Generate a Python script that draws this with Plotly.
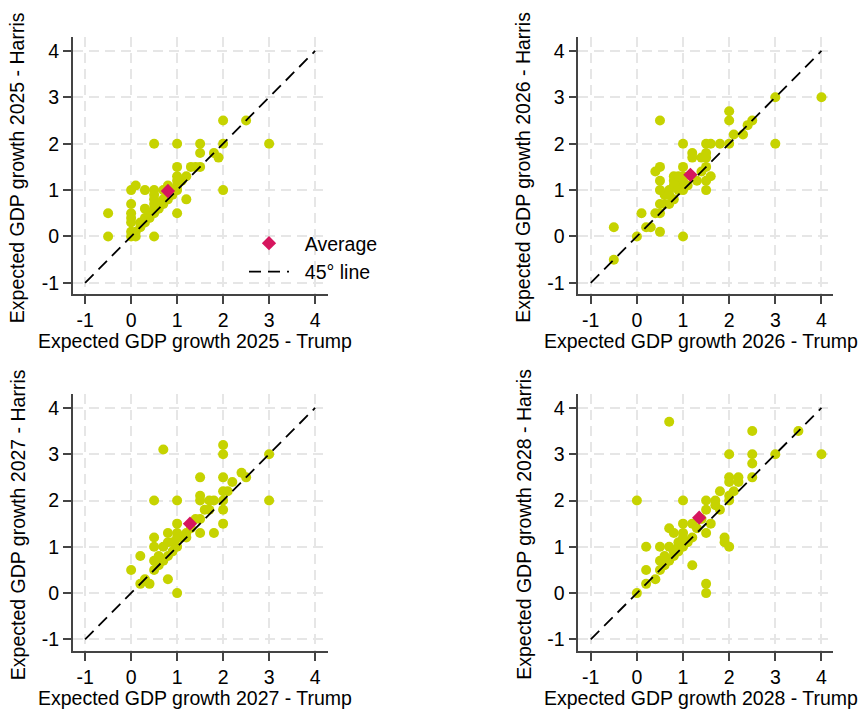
import plotly.graph_objects as go

# ---------------- data (expected GDP growth, %) ----------------
trump_2025 = [-0.5, -0.5, 0, 0.1, 0, 0, 0, 0, 0, 0, 0.1, 0.1, 0.2, 0.2, 0.3, 0.3, 0.3, 0.3, 0.4, 0.4,
              0.5, 0.5, 0.5, 0.5, 0.5, 0.5, 0.5, 0.5, 0.6, 0.6, 0.7, 0.7, 0.7, 0.8, 0.8, 0.8, 0.9, 0.9,
              1, 1, 1, 1, 1, 1, 1, 1.1, 1.2, 1.2, 1.3, 1.4, 1.5, 1.5, 1.5, 1.8, 1.9, 2, 2, 2, 2.5, 3]
harris_2025 = [0.5, 0, 1, 1.1, 0.7, 0.5, 0.4, 0.3, 0.1, 0, 0.1, 0, 0.2, 0.3, 1.0, 0.6, 0.3, 0.4, 0.5, 0.4,
               1.0, 0.9, 0.8, 0.7, 0.6, 0.5, 2.0, 0, 0.7, 0.6, 1.0, 0.8, 0.7, 1.1, 0.9, 0.8, 1.0, 0.9,
               2, 1.5, 1.3, 1.2, 1.1, 1.0, 0.5, 1.2, 1.3, 0.8, 1.5, 1.5, 1.5, 2, 1.8, 1.8, 1.7, 2.5, 2, 1, 2.5, 2]

trump_2026 = [-0.5, -0.5, 0, 0.1, 0.2, 0.3, 0.4, 0.5, 0.5, 0.5, 0.5, 0.4, 0.5, 0.5, 0.5, 0.6, 0.6, 0.7, 0.7,
              0.7, 0.8, 0.8, 0.8, 0.8, 0.9, 0.9, 0.9, 1, 1, 1, 1, 1, 1, 1.1, 1.2, 1.2, 1.3, 1.4, 1.5, 1.5,
              1.5, 1.5, 1.6, 1.8, 1.4, 1.6, 1.5, 1.5, 2, 2, 2, 2.1, 2.3, 2.4, 2.5, 3, 3, 4]
harris_2026 = [0.2, -0.5, 0, 0.5, 0.2, 0.2, 0.5, 0.5, 0.7, 0.1, 2.5, 1.4, 1.5, 1.2, 1.0, 0.7, 0.9, 0.7, 0.9,
               1.0, 1.1, 1.2, 1.3, 0.8, 1.1, 1.0, 1.3, 2, 1.5, 1.0, 0, 1.3, 1.2, 1.1, 1.8, 1.7, 1.2, 1.7, 1.8, 1.7,
               1.5, 2, 2, 2, 1.4, 1.3, 1.2, 1.0, 2, 2.7, 2.5, 2.2, 2.2, 2.4, 2.5, 3, 2, 3]

trump_2027 = [0, 0.2, 0.2, 0.3, 0.4, 0.5, 0.5, 0.6, 0.5, 0.5, 0.5, 0.7, 0.8, 0.7, 0.8, 0.8, 0.8, 0.7, 0.6,
              0.9, 0.9, 1, 1, 1, 1, 1, 1, 1.1, 1.2, 1.2, 1.3, 1.4, 1.5, 1.5, 1.5, 1.5, 1.5, 1.6, 1.7, 1.8,
              1.7, 1.8, 2, 2, 2, 2, 2.1, 2, 2, 2, 2.2, 2.4, 2.5, 3, 3]
harris_2027 = [0.5, 0.8, 0.2, 0.3, 0.2, 0.5, 0.7, 0.8, 1.2, 1.0, 2, 3.1, 0.3, 1.0, 1.3, 1.1, 0.8, 0.7, 0.6,
               1.1, 0.9, 1.5, 1.3, 1.2, 1.0, 2, 0, 1.2, 1.3, 1.2, 1.4, 1.6, 1.6, 1.3, 2.5, 2.1, 2, 1.8, 2, 2,
               1.8, 1.3, 3.2, 3, 2.5, 2.2, 2.2, 2, 1.8, 1.5, 2.4, 2.6, 2.5, 3, 2]

trump_2028 = [0, 0, 0.2, 0.2, 0.2, 0.4, 0.5, 0.5, 0.5, 0.6, 0.6, 0.7, 0.7, 0.7, 0.7, 0.8, 0.8, 0.8, 0.9, 0.9,
              0.9, 1, 1, 1, 1, 1, 1.1, 1.2, 1.2, 1.2, 1.3, 1.5, 1.5, 1.5, 1.5, 1.5, 1.4, 1.6, 1.7, 1.7,
              1.8, 1.8, 1.9, 1.9, 2, 2, 2, 2, 2, 2, 2.1, 2.2, 2.2, 2.5, 2.5, 2.5, 2.5, 3, 3.5, 4]
harris_2028 = [2, 0, 0.2, 0.5, 1.0, 0.3, 1.0, 0.5, 0.7, 0.8, 0.6, 1.0, 0.7, 1.4, 3.7, 1.3, 0.9, 0.8, 1.1, 1.0,
               0.9, 2, 1.5, 1.3, 1.2, 1.0, 1.1, 0.6, 1.5, 1.2, 1.4, 2, 1.8, 0.2, 0, 1.3, 1.6, 1.5, 2, 1.9,
               2.2, 1.8, 1.2, 1.1, 1.0, 3, 2.5, 2.4, 2.1, 2, 2.2, 2.5, 2.4, 3.5, 3, 2.8, 2.5, 3, 3.5, 3]

avg_trump = [0.80, 1.16, 1.28, 1.35]
avg_harris = [0.98, 1.33, 1.50, 1.63]

years = ["2025", "2026", "2027", "2028"]
diag = [-1, 4]
tick_vals = [-1, 0, 1, 2, 3, 4]
tick_text = ["-1", "0", "1", "2", "3", "4"]

series = [(trump_2025, harris_2025), (trump_2026, harris_2026),
          (trump_2027, harris_2027), (trump_2028, harris_2028)]

# ---------------- styling ----------------
W, H = 864, 709
FONT = "Liberation Sans, Arial, Helvetica, sans-serif"
DOT = "#c6d300"
AVG = "#d6165e"
AXC = "#444444"

# panel plot areas in pixels (left, right, top, bottom)
panels = [
    (72.7, 328.0, 37.0, 294.0),
    (578.3, 833.0, 37.0, 294.0),
    (72.7, 328.0, 394.0, 651.0),
    (578.3, 833.0, 394.0, 651.0),
]
xranges = [[-1.27, 4.28], [-1.27, 4.25], [-1.27, 4.28], [-1.27, 4.25]]
yranges = [[-1.24, 4.3], [-1.24, 4.3], [-1.25, 4.3], [-1.25, 4.3]]

fig = go.Figure()
layout = {}
annotations = []

for i, ((tx, hy), yr) in enumerate(zip(series, years)):
    n = "" if i == 0 else str(i + 1)
    xa, ya = "x" + n, "y" + n
    fig.add_trace(go.Scatter(x=tx, y=hy, mode="markers", xaxis=xa, yaxis=ya,
                             marker=dict(color=DOT, size=10, line=dict(width=0)),
                             showlegend=False, hoverinfo="skip"))
    fig.add_trace(go.Scatter(x=diag, y=diag, mode="lines", xaxis=xa, yaxis=ya,
                             line=dict(color="black", width=1.8, dash="12px,7px"),
                             name="\u00a0\u00a045\u00b0 line", showlegend=(i == 0),
                             legendrank=2, hoverinfo="skip"))
    fig.add_trace(go.Scatter(x=[avg_trump[i]], y=[avg_harris[i]], mode="markers",
                             xaxis=xa, yaxis=ya,
                             marker=dict(color=AVG, size=11, symbol="diamond", line=dict(width=0)),
                             name="\u00a0\u00a0Average", showlegend=(i == 0),
                             legendrank=1, hoverinfo="skip"))

    l, r, t, b = panels[i]
    common = dict(showline=True, linecolor=AXC, linewidth=1.5, mirror=False,
                  ticks="outside", ticklen=8, tickwidth=1.5, tickcolor=AXC,
                  tickvals=tick_vals, ticktext=tick_text,
                  showgrid=True, gridcolor="#e6e6e6", gridwidth=1.5,
                  griddash="10px,6px", zeroline=False,
                  tickfont=dict(family=FONT, size=19.5, color="black"), fixedrange=True)
    layout["xaxis" + n] = dict(common, domain=[l / W, r / W], range=xranges[i],
                               anchor=ya)
    layout["yaxis" + n] = dict(common, domain=[1 - b / H, 1 - t / H], range=yranges[i],
                               anchor=xa)

    annotations.append(dict(text=f"Expected GDP growth {yr} - Trump", xref="paper", yref="paper",
                            x=((l + r) / 2 - 5) / W, y=1 - (b + 47) / H, showarrow=False,
                            xanchor="center", yanchor="middle",
                            font=dict(family=FONT, size=19.5, color="black")))
    annotations.append(dict(text=f"Expected GDP growth {yr} - Harris", xref="paper", yref="paper",
                            x=(l - 55) / W, y=1 - ((t + b) / 2 + 2) / H, showarrow=False,
                            textangle=-90, xanchor="center", yanchor="middle",
                            font=dict(family=FONT, size=19.5, color="black")))

fig.update_layout(
    **layout,
    annotations=annotations,
    width=W, height=H,
    margin=dict(l=0, r=0, t=0, b=0),
    paper_bgcolor="white", plot_bgcolor="white",
    font=dict(family=FONT, size=19.5, color="black"),
    legend=dict(x=244 / W, y=1 - 224 / H, xanchor="left", yanchor="top",
                bgcolor="rgba(0,0,0,0)", itemwidth=40,
                font=dict(family=FONT, size=19.5, color="black"),
                tracegroupgap=0),
)

fig.write_html("out.html", config={"displayModeBar": False},
               post_script="document.body.style.margin='0';document.body.style.overflow='hidden';")
